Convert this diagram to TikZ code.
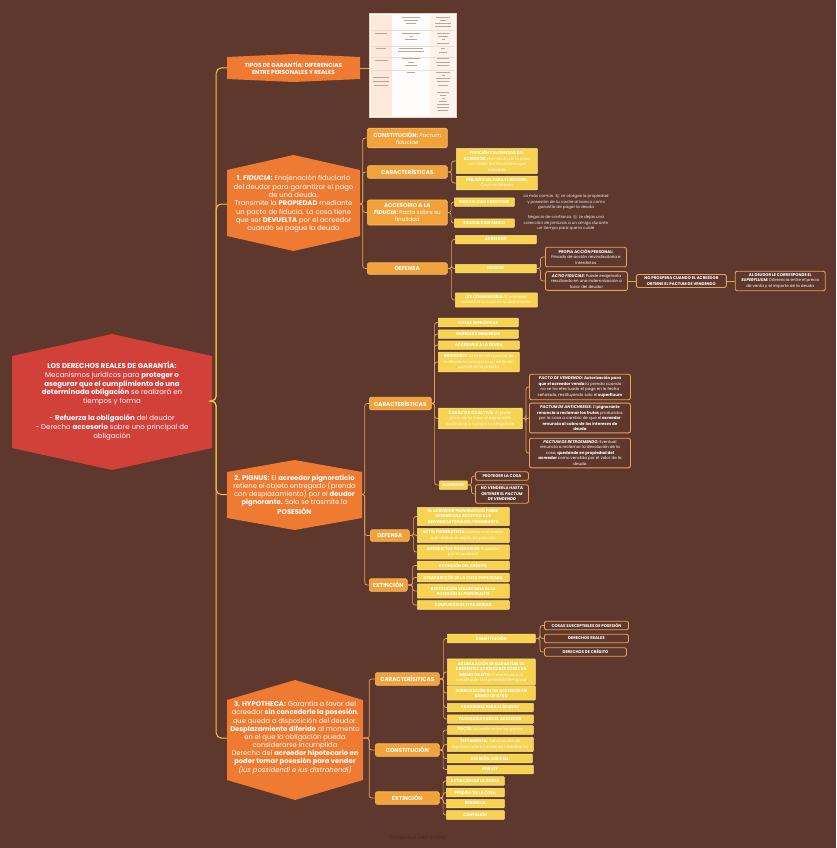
\documentclass[tikz,border=0pt]{standalone}
\usepackage{fontspec}
\setmainfont{Poppins}
\usetikzlibrary{positioning}
\definecolor{cocoa}{HTML}{5E372D}
\definecolor{brick}{HTML}{D2403A}
\definecolor{tangerine}{HTML}{EE7B31}
\definecolor{amber}{HTML}{F2A23B}
\definecolor{amberline}{HTML}{F7BD63}
\definecolor{butter}{HTML}{F6D350}
\definecolor{butterline}{HTML}{FBE38A}
\definecolor{sand}{HTML}{E4A35C}
\definecolor{goldline}{HTML}{F2C546}
\definecolor{paper}{HTML}{FFFDFB}
\definecolor{paperline}{HTML}{EED3B3}
\definecolor{blush}{HTML}{FCE9DA}
\definecolor{inkgray}{HTML}{B9A79C}

\newcommand{\fsz}[2]{\fontsize{#1}{#2}\selectfont}
\newcommand{\txtreg}[1]{{\mdseries #1}}
% hexagon: colour, cx, cy, half width, half side, tip
\newcommand{\garhex}[6]{\fill[#1] ({#2-#4},{#3-#5}) -- (#2,{#3-#5-#6}) -- ({#2+#4},{#3-#5}) -- ({#2+#4},{#3+#5}) -- (#2,{#3+#5+#6}) -- ({#2-#4},{#3+#5}) -- cycle;}

\begin{document}
\begin{tikzpicture}[x=1pt, y=-1pt,
    hexlabel/.style={text=white, align=center, inner sep=0pt, font=\fsz{6.8}{8.3}},
    cat/.style={fill=amber, draw=amberline, line width=0.6pt, rounded corners=1.5pt, text=white, align=center, anchor=west, inner xsep=2pt, inner ysep=3.5pt, minimum height=11.5pt, font=\fsz{5.6}{7}\bfseries},
    item/.style={fill=butter, draw=butterline, line width=0.5pt, rounded corners=0.6pt, text=white, align=center, anchor=west, inner xsep=1.5pt, inner ysep=2.3pt, minimum height=8.5pt, font=\fsz{4}{5.5}\bfseries},
    detail/.style={fill=cocoa, draw=sand, line width=0.9pt, rounded corners=2pt, text=white, align=center, anchor=west, inner xsep=2pt, inner ysep=2.3pt, minimum height=8.5pt, font=\fsz{4}{5.5}\bfseries},
    note/.style={text=white!90!cocoa, align=center, anchor=west, inner sep=0pt, font=\fsz{4}{5.3}},
    link/.style={draw=sand, line width=0.7pt, rounded corners=2.5pt},
    trunk/.style={draw=goldline, line width=1pt, rounded corners=5pt},
    elbow/.style={to path={-- ++(#1,0) |- (\tikztotarget)}}
]
\fill[cocoa] (0,0) rectangle (836,848);
\useasboundingbox (0,0) rectangle (836,848);

% main
\garhex{brick}{112}{402}{100}{46}{22}
\node[hexlabel, font=\fsz{7}{8.7}, minimum width=200pt] (main) at (112,401) {%
    \textbf{LOS DERECHOS REALES DE GARANTÍA:}\\
    Mecanismos jurídicos para \textbf{proteger o}\\
    \textbf{asegurar que el cumplimiento de una}\\
    \textbf{determinada obligación} se realizará en\\
    tiempos y forma\\[8.7pt]
    - \textbf{Refuerza la obligación} del deudor\\
    - Derecho \textbf{accesorio} sobre uno principal de\\
    obligación};

% tipos de garantia
\garhex{tangerine}{293.5}{68}{66.5}{11}{3}
\node[hexlabel, font=\fsz{5.8}{7.5}\bfseries, minimum width=133pt] (tipos) at (293.5,68) {TIPOS DE GARANTÍA: DIFERENCIAS\\ENTRE PERSONALES Y REALES};

\node[draw=paperline, line width=1.2pt, fill=paper, minimum width=87pt, minimum height=104pt, inner sep=0pt] (tabla) at (413,65.5) {};
\fill[blush] (371,15) rectangle (392,116);
\fill[blush!55] (430,15) rectangle (455,116);
\foreach \yy in {30,46,57,70} \draw[blush!80!inkgray, line width=0.3pt] (371,\yy) -- (455,\yy);
\foreach \xx/\yy/\ww in {411/17/18, 411/20/14, 411/23/10, 443/17/14, 443/20/6, 443/23/16, 443/26/16,
    381/33/12, 381/48/10, 381/60/13, 381/77/16, 381/81/16, 381/85/14,
    411/33/18, 411/36/3, 411/39/12, 411/48/24, 411/51/26, 411/58/18, 411/62/6, 411/65/12, 411/72/8,
    443/33/12, 443/36/10, 443/39/3, 443/43/12, 443/48/4, 443/52/8, 443/58/12, 443/62/14, 443/65/12,
    443/72/14, 443/75/3, 443/78/14, 443/81/12, 443/85/10, 443/92/12, 443/95/6, 443/98/3, 443/101/8,
    443/104/12, 443/107/12, 443/110/10}
    \draw[inkgray, line width=0.9pt] ({\xx-\ww/2},\yy) -- ({\xx+\ww/2},\yy);

% 1. fiducia
\garhex{tangerine}{293.5}{203}{66.5}{33}{15}
\node[hexlabel, minimum width=133pt] (fid) at (293.5,204) {%
    \textbf{1. \textit{FIDUCIA:}} Enajenación fiduciaria\\
    del deudor para garantizar el pago\\
    de una deuda.\\
    Transmite la \textbf{PROPIEDAD} mediante\\
    un pacto de fiducia. La cosa tiene\\
    que ser \textbf{DEVUELTA} por el acreedor\\
    cuando se pague la deuda};

\node[cat, minimum width=80pt] (fconst) at (367,138) {CONSTITUCIÓN: \txtreg{\itshape Pactum}\\\txtreg{\itshape fiduciae}};
\node[cat, minimum width=80pt] (fcarac) at (367,172) {CARACTERÍSTICAS};
\node[cat, minimum width=80pt] (facc) at (367,212.5) {ACCESORIO A LA\\\textit{FIDUCIA:} \txtreg{Pacto sobre su}\\\txtreg{finalidad}};
\node[cat, minimum width=80pt] (fdef) at (367,268.5) {DEFENSA};

\node[item, minimum width=81pt] (fposic) at (456,161) {POSICIÓN FAVORECIDA DEL\\ACREEDOR: \txtreg{Dominium de la cosa}\\\txtreg{con todas las facultades que}\\\txtreg{concede}};
\node[item, minimum width=81pt] (fperj) at (456,183) {PERJUDICIAL PARA EL DEUDOR:\\\txtreg{Cayó en desuso}};
\node[item, minimum width=60pt] (fcred) at (454,202) {FIDUCIA CUM CREDITORE};
\node[item, minimum width=60pt] (famico) at (454,223) {FIDUCIA CUM AMICO};
\node[note, right=9pt of fcred] (fcrednote) {La más común. Ej: Le otorgas la propiedad\\y posesión de tu coche al banco como\\garantía de pagar la deuda};
\node[note, right=9pt of famico] (famnote) {Negocio de confianza. Ej: Le dejas una\\colección de pinturas a un amigo durante\\un tiempo para que la cuide};
\node[item, minimum width=81pt] (facr) at (455,239.5) {ACREEDOR};
\node[item, minimum width=81pt] (fdeu) at (455,268.5) {DEUDOR};
\node[item, minimum width=82pt] (flex) at (455,300) {LEX COMMISSORIA: \txtreg{El acreedor}\\\txtreg{conserva la cosa en su patrimonio}};

\node[detail, minimum width=81pt] (fpropia) at (545,257) {PROPIA ACCIÓN PERSONAL:\\\txtreg{Privado de acción reivindicatoria e}\\\txtreg{interdictos}};
\node[detail, minimum width=82pt] (factio) at (545,281) {\textit{ACTIO FIDUCIAE:} \txtreg{Puede enajenarla}\\\txtreg{resultando en una indemnización a}\\\txtreg{favor del deudor}};
\node[detail, minimum width=90pt, right=8pt of factio] (fnopros) {NO PROSPERA CUANDO EL ACREEDOR\\OBTIENE EL PACTUM DE VENDENDO};
\node[detail, minimum width=90pt, right=8pt of fnopros] (fsuper) {AL DEUDOR LE CORRESPONDE EL\\\textit{SUPERFLUUM:} \txtreg{Diferencia entre el precio}\\\txtreg{de venta y el importe de la deuda}};

% 2. pignus
\garhex{tangerine}{294.5}{495}{67.5}{23}{12}
\node[hexlabel, minimum width=135pt] (pig) at (294.5,494.5) {%
    \textbf{2. PIGNUS:} El \textbf{acreedor pignoraticio}\\
    retiene el objeto entregado (prenda\\
    con desplazamiento) por el \textbf{deudor}\\
    \textbf{pignorante.} Solo se trasmite la\\
    \textbf{POSESIÓN}};

\node[cat, minimum width=62pt] (pcarac) at (369,403.5) {CARACTERÍSTICAS};
\node[cat, minimum width=39pt] (pdef) at (370,535.5) {DEFENSA};
\node[cat, minimum width=38pt] (pext) at (369,585) {EXTINCIÓN};

\node[item, minimum width=80pt] (pcosas) at (438,322.5) {COSAS ESPECÍFICAS};
\node[item, minimum width=80pt] (pmueb) at (438,334) {MUEBLES E INMUEBLES};
\node[item, minimum width=81pt] (paccs) at (438,345) {ACCESORIA A LA DEUDA};
\node[item, minimum width=81pt] (pindiv) at (438,362) {INDIVISIBLE: \txtreg{La extinción parcial de}\\\txtreg{la deuda no comporta un extinción}\\\txtreg{parcial de la prenda}};
\node[item, minimum width=84pt] (pcoac) at (438,418.5) {CARÁCTER COACTIVO: \txtreg{Al poder}\\\txtreg{privar de la cosa al pignorante}\\\txtreg{forzándole a cumplir la obligación}};
\node[item, minimum width=28pt] (pacr) at (439,485) {ACREEDOR};

\node[detail, minimum width=101pt] (pvend) at (529,387) {\textit{PACTO DE VENDENDO:} Autorización para\\que el acreedor venda \txtreg{la prenda cuando}\\\txtreg{no se ha efectuado el pago en la fecha}\\\txtreg{señalada, restituyendo solo el} superfluum};
\node[detail, minimum width=101pt] (panti) at (529,418) {\textit{PACTUM DE ANTICHRESIS:} \txtreg{El} pignorante\\renuncia a reclamar los frutos \txtreg{producidos}\\\txtreg{por la cosa a cambio de que el} acreedor\\renuncia al cobro de los intereses de\\deuda};
\node[detail, minimum width=101pt] (pretro) at (529,453) {\textit{PACTUM DE RETROEMENDO:} \txtreg{Eventual}\\\txtreg{renuncia a reclamar la devolución de la}\\\txtreg{cosa,} quedando en propiedad del\\acreedor \txtreg{como vendida por el valor de la}\\\txtreg{deuda}};
\node[detail, minimum width=53pt] (pprot) at (475,476) {PROTEGER LA COSA};
\node[detail, minimum width=53pt] (pnovend) at (475,494) {NO VENDERLA HASTA\\OBTENER EL \textit{PACTUM}\\\textit{DE VENDENDO}};

\node[item, minimum width=92pt] (pexcep) at (417,516.5) {EL ACREEDOR PIGNORATICIO PUEDE\\OPONER UNA EXCEPTIO A LA\\REIVINDICATORIA DEL PIGNORANTE};
\node[item, minimum width=92pt] (pactio) at (417,535.5) {ACTIO PIGNERATICIA: \txtreg{Contra el acreedor}\\\txtreg{que retiene el objeto en precario}};
\node[item, minimum width=92pt] (pinter) at (417,552) {INTERDICTOS POSESORIOS: \txtreg{Poseedor}\\\txtreg{por el acreedor}};
\node[item, minimum width=92pt] (pextc) at (417,565.5) {EXTINCIÓN DEL CRÉDITO};
\node[item, minimum width=92pt] (pdesap) at (417,577.5) {DESAPARICIÓN DE LA COSA PIGNORADA};
\node[item, minimum width=92pt] (prest) at (417,591) {RESTITUCIÓN VOLUNTARIA DE LA\\POSESIÓN AL PIGNORANTE};
\node[item, minimum width=92pt] (pconf) at (417,605) {CONFUSIÓN DE TITULARIDAD};

% 3. hypotheca
\garhex{tangerine}{295}{740}{68}{40}{20}
\node[hexlabel, font=\fsz{6.8}{8.1}, minimum width=136pt] (hyp) at (295,738) {%
    \textbf{3. HYPOTHECA:} Garantía a favor del\\
    acreedor \textbf{sin concederle la posesión},\\
    que queda a disposición del deudor.\\
    \textbf{Desplazamiento diferido} al momento\\
    en el que la obligación pueda\\
    considerarse incumplida\\
    Derecho del \textbf{acreedor hipotecario en}\\
    \textbf{poder tomar posesión para vender}\\
    \textit{(ius possidendi e ius distrahendi)}};

\node[cat, minimum width=64pt] (hcarac) at (375,679) {CARACTERÍSITICAS};
\node[cat, minimum width=64pt] (hconst) at (375,750) {CONSTITUCIÓN};
\node[cat, minimum width=64pt] (hext) at (375,798) {EXTINCIÓN};

\node[item, minimum width=88pt] (hconsti) at (447,638.5) {CONSTITUCIÓN};
\node[item, minimum width=88pt] (hacum) at (447,672) {ACUMULACIÓN DE GARANTÍAS DE\\DIFERENTES ACREEDORES SOBRE UN\\MISMO OBJETO: \txtreg{Preferencia a la}\\\txtreg{constituida con prioridad temporal}};
\node[item, minimum width=88pt] (hsubro) at (447,693) {SUBROGACIÓN DE UN ACREEDOR EN\\RANGO DE OTRO};
\node[item, minimum width=86pt] (hfdeu) at (447,707.5) {FAVORABLE PARA EL DEUDOR};
\node[item, minimum width=86pt] (hfacr) at (447,719) {FAVORABLE PARA EL ACREEDOR};

\node[detail, minimum width=84pt] (hcosas) at (544,625.5) {COSAS SUSCEPTIBLES DE POSESIÓN};
\node[detail, minimum width=84pt] (hdreal) at (544,638.5) {DERECHOS REALES};
\node[detail, minimum width=82pt] (hdcred) at (544,652) {DERECHOS DE CRÉDITO};

\node[item, minimum width=86pt] (hpacto) at (447,730) {PACTO: \txtreg{Acuerdo entre las partes}};
\node[item, minimum width=86pt] (htest) at (447,744.5) {TESTAMENTO: \txtreg{Constitución de}\\\txtreg{hipoteca sobre los bienes hereditarios}};
\node[item, minimum width=85pt] (hdecis) at (447,758.5) {DECISIÓN JUDICIAL};
\node[item, minimum width=86pt] (hley) at (447,769.5) {POR LEY};

\node[item, minimum width=58pt] (hextd) at (446,781) {EXTINCIÓN DE LA DEUDA};
\node[item, minimum width=58pt] (hperd) at (446,792.5) {PÉRDIDA DE LA COSA};
\node[item, minimum width=58pt] (hrenun) at (446,803.5) {RENUNCIA};
\node[item, minimum width=58pt] (hconf) at (446,815) {CONFUSIÓN};

\node[font=\fsz{5.2}{6}, text=cocoa!75!black] (marca) at (418,838) {Presented with xmind};

% connectors
\foreach \t in {tipos,fid,pig,hyp} \draw[trunk] (main.east) to[elbow=4] (\t.west);
\draw[link] (tipos.east) -- (tipos.east -| tabla.west);

\foreach \t in {fconst,fcarac,facc,fdef} \draw[link] (fid.east) to[elbow=2.5] (\t.west);
\foreach \t in {fposic,fperj} \draw[link] (fcarac.east) to[elbow=4] (\t.west);
\foreach \t in {fcred,famico} \draw[link] (facc.east) to[elbow=3.5] (\t.west);
\foreach \t in {facr,fdeu,flex} \draw[link] (fdef.east) to[elbow=4] (\t.west);
\foreach \t in {fpropia,factio} \draw[link] (fdeu.east) to[elbow=4] (\t.west);
\draw[link] (factio) -- (fnopros);
\draw[link] (fnopros) -- (fsuper);

\foreach \t in {pcarac,pdef,pext} \draw[link] (pig.east) to[elbow=2.5] (\t.west);
\foreach \t in {pcosas,pmueb,paccs,pindiv,pcoac,pacr} \draw[link] (pcarac.east) to[elbow=3] (\t.west);
\foreach \t in {pvend,panti,pretro} \draw[link] (pcoac.east) to[elbow=3.5] (\t.west);
\foreach \t in {pprot,pnovend} \draw[link] (pacr.east) to[elbow=4] (\t.west);
\foreach \t in {pexcep,pactio,pinter} \draw[link] (pdef.east) to[elbow=4] (\t.west);
\foreach \t in {pextc,pdesap,prest,pconf} \draw[link] (pext.east) to[elbow=5] (\t.west);

\foreach \t in {hcarac,hconst,hext} \draw[link] (hyp.east) to[elbow=6] (\t.west);
\foreach \t in {hconsti,hacum,hsubro,hfdeu,hfacr} \draw[link] (hcarac.east) to[elbow=4] (\t.west);
\foreach \t in {hcosas,hdreal,hdcred} \draw[link] (hconsti.east) to[elbow=4.5] (\t.west);
\foreach \t in {hpacto,htest,hdecis,hley} \draw[link] (hconst.east) to[elbow=3.5] (\t.west);
\foreach \t in {hextd,hperd,hrenun,hconf} \draw[link] (hext.east) to[elbow=3.5] (\t.west);

\end{tikzpicture}
\end{document}
